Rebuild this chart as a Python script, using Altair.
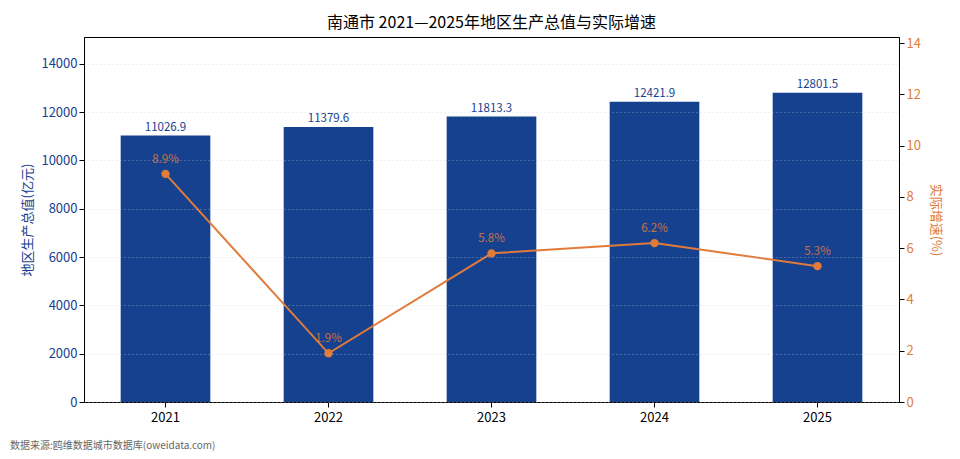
import altair as alt
import pandas as pd

years = ["2021", "2022", "2023", "2024", "2025"]
gdp = [11026.9, 11379.6, 11813.3, 12421.9, 12801.5]
growth = [8.9, 1.9, 5.8, 6.2, 5.3]

BLUE = "#15418f"
ORANGE = "#e07b39"
FONT = "Noto Sans CJK SC"

df = pd.DataFrame({"year": years, "gdp": gdp, "growth": growth})
df["gdp_label"] = df["gdp"].map(lambda v: f"{v:.1f}")
df["growth_label"] = df["growth"].map(lambda v: f"{v:.1f}%")

x = alt.X("year:N", title=None, sort=years,
          scale=alt.Scale(paddingInner=0.45, paddingOuter=0.225),
          axis=alt.Axis(labelAngle=0, labelColor="black", labelFontSize=13,
                        tickColor="black", domainColor="black", labelPadding=4))

y_left = alt.Y("gdp:Q", title="地区生产总值(亿元)",
               scale=alt.Scale(domain=[0, 15106], nice=False),
               axis=alt.Axis(values=list(range(0, 14001, 2000)), format="d", labelColor=BLUE,
                             titleColor=BLUE, labelFontSize=13, titleFontSize=13,
                             titleFontWeight="normal", grid=True, gridDash=[1, 3],
                             gridColor="#cccccc", gridOpacity=0.6, tickColor="black",
                             domainColor="black", titlePadding=6, zindex=1))

y_right = alt.Y("growth:Q", title="实际增速(%)",
                scale=alt.Scale(domain=[0, 14.24], nice=False),
                axis=alt.Axis(orient="right", values=list(range(0, 15, 2)), format="d",
                              labelColor=ORANGE, titleColor=ORANGE, labelFontSize=13,
                              titleFontSize=13, titleFontWeight="normal", grid=False,
                              tickColor="black", domainColor="black", titlePadding=8))

# left axis: bars + value labels
lbase = alt.Chart(df).encode(x=x, y=y_left)
bars = lbase.mark_bar(color=BLUE)
bar_text = lbase.mark_text(baseline="bottom", dy=-3, color=BLUE, fontSize=11.5,
                           font=FONT).encode(text="gdp_label:N")

# right axis: growth line
rbase = alt.Chart(df).encode(x=x, y=y_right)
line = rbase.mark_line(color=ORANGE, strokeWidth=2)
pts = rbase.mark_point(color=ORANGE, filled=True, size=70, opacity=1)
line_text = rbase.mark_text(baseline="bottom", dy=-9, color=ORANGE, fontSize=11.5,
                            font=FONT, opacity=0.85).encode(text="growth_label:N")

source = alt.Chart(pd.DataFrame({"t": ["数据来源:鸥维数据城市数据库(oweidata.com)"]})).mark_text(
    align="left", baseline="bottom", fontSize=10, color="#666666", font=FONT
).encode(x=alt.value(-74), y=alt.value(414), text="t:N")

left = alt.layer(bars, bar_text)
right = alt.layer(line, pts, line_text)

chart = alt.layer(left, right, source).resolve_scale(y="independent").properties(
    width=815, height=365,
    title=alt.TitleParams("南通市 2021—2025年地区生产总值与实际增速", fontSize=16,
                          fontWeight="normal", font=FONT, color="black", offset=6),
    autosize="none",
    padding={"left": 76, "top": 29, "right": 53, "bottom": 51},
).configure(font=FONT).configure_view(stroke="black", strokeWidth=1)

chart.save("out.html", embed_options={"renderer": "svg", "actions": False})
